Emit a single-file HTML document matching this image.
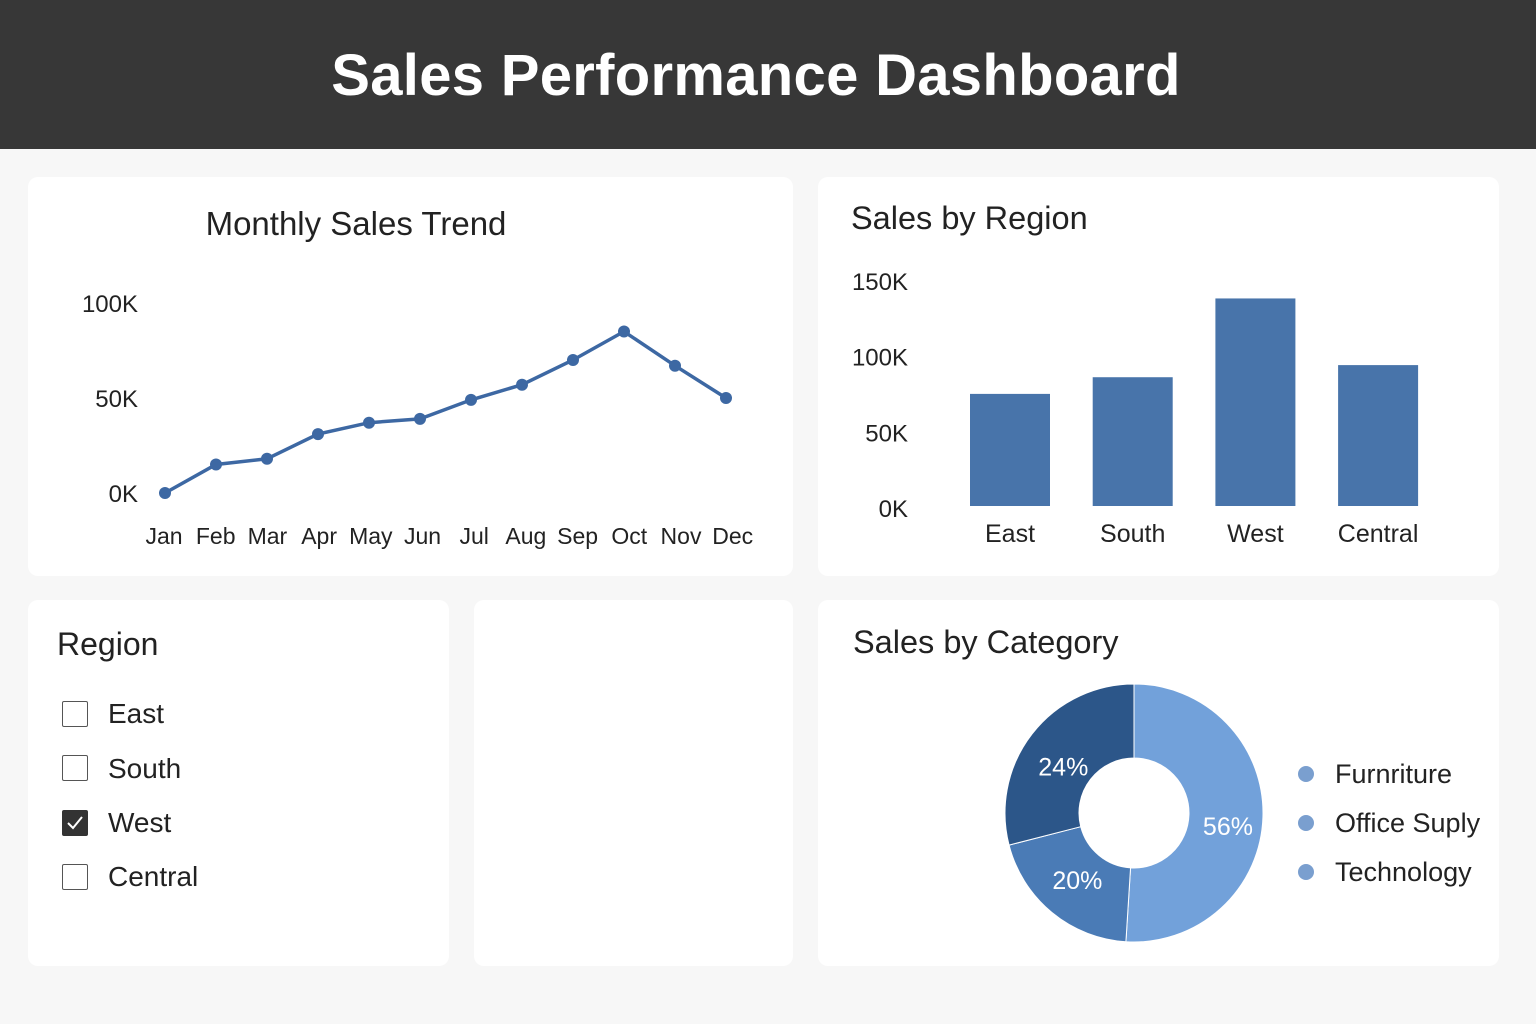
<!DOCTYPE html>
<html><head><meta charset="utf-8"><style>
body{margin:0;width:1536px;height:1024px;background:#f7f7f7;font-family:"Liberation Sans",sans-serif;overflow:hidden;position:relative}
.hdr{position:absolute;left:0;top:0;width:1536px;height:149px;background:#373737;color:#fff;font-size:58px;font-weight:bold;text-align:center;line-height:152px;letter-spacing:0.3px}
.hdr span{position:relative;left:-12px}
.panel{position:absolute;background:#fff;border-radius:10px}
svg text{font-family:"Liberation Sans",sans-serif}
.cb{position:absolute;left:62px;width:26px;height:26px;border:1.5px solid #555;border-radius:2px;box-sizing:border-box;background:#fff}
.cbl{position:absolute;left:108px;font-size:28px;color:#222}
</style></head><body>
<div class="hdr"><span>Sales Performance Dashboard</span></div>

<div class="panel" style="left:28px;top:177px;width:765px;height:399px"></div>
<div class="panel" style="left:818px;top:177px;width:681px;height:399px"></div>
<div class="panel" style="left:28px;top:600px;width:421px;height:366px"></div>
<div class="panel" style="left:474px;top:600px;width:319px;height:366px"></div>
<div class="panel" style="left:818px;top:600px;width:681px;height:366px"></div>

<div style="position:absolute;left:57px;top:626px;font-size:32px;color:#222">Region</div>
<div class="cb" style="top:701px"></div><div class="cbl" style="top:698px">East</div>
<div class="cb" style="top:755px"></div><div class="cbl" style="top:753px">South</div>
<div class="cb" style="top:810px;background:#333;border-color:#333"><svg width="23" height="23" style="position:absolute;left:0;top:0"><path d="M5 12 L10 17 L19 6" stroke="#fff" stroke-width="2" fill="none"/></svg></div><div class="cbl" style="top:807px">West</div>
<div class="cb" style="top:864px"></div><div class="cbl" style="top:861px">Central</div>

<svg id="chart" width="1536" height="1024" style="position:absolute;left:0;top:0">
<text x="356" y="235" font-size="33" fill="#222" text-anchor="middle">Monthly Sales Trend</text>
<text x="851" y="229" font-size="32.5" fill="#222">Sales by Region</text>
<text x="853" y="653" font-size="32.5" fill="#222">Sales by Category</text>
<g id="line"></g><g id="bars"></g><g id="donut"></g>
</svg>
<script>
const months=["Jan","Feb","Mar","Apr","May","Jun","Jul","Aug","Sep","Oct","Nov","Dec"];
const monthlySales=[0,15,18,31,37,39,49,57,70,85,67,50];
const lineTicks=[0,50,100];
const lineTickLabels=["0K","50K","100K"];
const regions=["East","South","West","Central"];
const regionSales=[74,85,137,93];
const barTicks=[0,50,100,150];
const barTickLabels=["0K","50K","100K","150K"];
const categories=["Furnriture","Office Suply","Technology"];
const categoryShares=[51,20,29];
const categoryLabels=["56%","20%","24%"];

const NS="http://www.w3.org/2000/svg";
function mk(p,tag,a,txt){const e=document.createElementNS(NS,tag);for(const k in a)e.setAttribute(k,a[k]);if(txt!=null)e.textContent=txt;p.appendChild(e);return e;}
// line chart
const lx=i=>165+i*51, ly=v=>493-v*1.9, llx=i=>164+i*51.7;
const L=document.getElementById('line');
lineTicks.forEach((t,i)=>{const e=mk(L,'text',{x:138,y:ly(t)+9,'font-size':24,fill:'#222','text-anchor':'end'},lineTickLabels[i]);

});
months.forEach((m,i)=>{const e=mk(L,'text',{x:llx(i),y:544,'font-size':23,fill:'#222','text-anchor':'middle'},m);

});
const pl=mk(L,'polyline',{points:monthlySales.map((v,i)=>lx(i)+','+ly(v)).join(' '),fill:'none',stroke:'#3d68a3','stroke-width':3.5});


monthlySales.forEach((v,i)=>{const c=mk(L,'circle',{cx:lx(i),cy:ly(v),r:6,fill:'#3d68a3'});

});
// bar chart
const by=v=>506-v*1.515, bx=i=>1010+i*122.7;
const B=document.getElementById('bars');
barTicks.forEach((t,i)=>{const e=mk(B,'text',{x:908,y:by(t)+11,'font-size':24,fill:'#222','text-anchor':'end'},barTickLabels[i]);

});
regions.forEach((r,i)=>{const x=bx(i);
const rc=mk(B,'rect',{x:x-40,y:by(regionSales[i]),width:80,height:by(0)-by(regionSales[i]),fill:'#4874aa'});


const t=mk(B,'text',{x:x,y:542,'font-size':25,fill:'#222','text-anchor':'middle'},r);

});
// donut
const D=document.getElementById('donut');const cx=1134,cy=813,R=129,r0=55;
const cols=['#72a1da','#4a7bb6','#2c5689'];
let a0=0;const tot=categoryShares.reduce((a,b)=>a+b,0);
categoryShares.forEach((s,i)=>{const a1=a0+s/tot*2*Math.PI;const P=(a,rr)=>[cx+rr*Math.sin(a),cy-rr*Math.cos(a)];
const [x1,y1]=P(a0,R),[x2,y2]=P(a1,R),[x3,y3]=P(a1,r0),[x4,y4]=P(a0,r0);const lg=(a1-a0)>Math.PI?1:0;
const p=mk(D,'path',{d:`M${x1} ${y1}A${R} ${R} 0 ${lg} 1 ${x2} ${y2}L${x3} ${y3}A${r0} ${r0} 0 ${lg} 0 ${x4} ${y4}Z`,fill:cols[i],stroke:'#fff','stroke-width':1});


const am=(a0+a1)/2;const [tx,ty]=P(am,92);
const t=mk(D,'text',{x:tx+2,y:ty+(i==1?5:19),'font-size':25,fill:'#fff','text-anchor':'middle'},categoryLabels[i]);


a0=a1;});
categories.forEach((c,i)=>{const y=774+i*49;
const d=mk(D,'circle',{cx:1306,cy:y,r:8,fill:'#7a9fcf'});


const t=mk(D,'text',{x:1335,y:y+9,'font-size':27,fill:'#222'},c);

});
</script>
</body></html>
